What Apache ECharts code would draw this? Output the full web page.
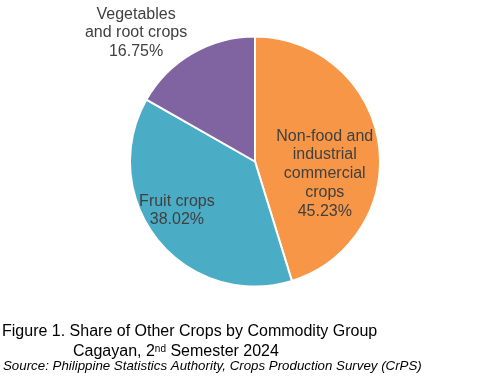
<!DOCTYPE html>
<html><head><meta charset="utf-8">
<script src="https://cdn.jsdelivr.net/npm/echarts@6/dist/echarts.min.js"></script>
<style>html,body{margin:0;padding:0;background:#fff}#c{width:477px;height:378px}</style>
</head><body><div id="c"></div>
<script>
var categories = ['Non-food and\nindustrial\ncommercial\ncrops', 'Fruit crops', 'Vegetables\nand root crops'];
var values = [45.23, 38.02, 16.75];
var colors = ['#F79646', '#4BACC6', '#8064A2'];
var labelOffsets = [[5, 22], [-27, 8], [-86, -72]];

var chart = echarts.init(document.getElementById('c'), null, {renderer: 'canvas'});
var data = categories.map(function (c, i) {
  return {
    name: c, value: values[i],
    itemStyle: {color: colors[i]},
    label: {offset: labelOffsets[i]}
  };
});
chart.setOption({
  animation: false,
  title: [
    {text: 'Figure 1. Share of Other Crops by Commodity Group', left: 2, top: 324,
     textStyle: {fontFamily: 'Liberation Sans', fontSize: 16, fontWeight: 'normal', color: '#000'}, padding: 0},
    {text: 'Cagayan, 2{sup|nd} Semester 2024', left: 73, top: 344, padding: 0,
     textStyle: {fontFamily: 'Liberation Sans', fontSize: 16, fontWeight: 'normal', color: '#000',
       rich: {sup: {fontFamily: 'Liberation Sans', fontSize: 10, verticalAlign: 'top', color: '#000', padding: [0, 0, 6, 0]}}}},
    {text: 'Source: Philippine Statistics Authority, Crops Production Survey (CrPS)', left: 3, top: 360, padding: 0,
     textStyle: {fontFamily: 'Liberation Sans', fontSize: 13.3, fontStyle: 'italic', fontWeight: 'normal', color: '#000'}}
  ],
  series: [{
    type: 'pie',
    center: [255, 161.5],
    radius: [0, 125],
    startAngle: 90,
    clockwise: true,
    avoidLabelOverlap: false,
    itemStyle: {borderColor: '#fff', borderWidth: 2},
    label: {
      show: true, position: 'inside',
      formatter: function (p) { return p.name + '\n' + p.value.toFixed(2) + '%'; },
      fontFamily: 'Liberation Sans', fontSize: 16, lineHeight: 18.7, color: '#404040', align: 'center'
    },
    labelLine: {show: false},
    emphasis: {disabled: true},
    data: data
  }]
});
</script></body></html>
